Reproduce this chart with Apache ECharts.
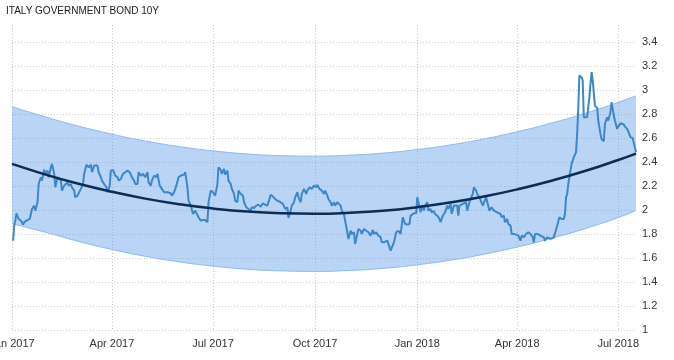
<!DOCTYPE html>
<html>
<head>
<meta charset="utf-8">
<script src="https://cdn.jsdelivr.net/npm/echarts@6/dist/echarts.min.js"></script>
<style>
html,body{margin:0;padding:0;background:#fff;}
#chart{width:674px;height:360px;}
</style>
</head>
<body>
<div id="chart"></div>
<script>
// ---- DATA ----
const titleText = 'ITALY GOVERNMENT BOND 10Y';
const startDate = [2017, 0, 1];       // day offsets below count from this date
const endOffset = 562;                // last day shown (Jul 2018)

// [day offset from 2017-01-01, 10Y yield %]
const yieldPoints = [
[1,1.744],[2,1.869],[3,1.911],[4,1.972],[6,1.925],[8,1.911],[10,1.878],[11,1.897],[13,1.911],[16,1.925],
[18,2.008],[20,2.036],[21,1.994],[23,2.064],[24,2.216],[26,2.272],[27,2.244],[29,2.336],[30,2.300],[32,2.327],
[33,2.272],[35,2.355],[36,2.383],[38,2.300],[39,2.189],[41,2.272],[42,2.258],[44,2.244],[45,2.161],[47,2.202],
[48,2.216],[50,2.230],[51,2.202],[53,2.216],[54,2.189],[56,2.161],[57,2.105],[59,2.119],[60,2.133],[62,2.175],
[64,2.216],[65,2.300],[67,2.377],[69,2.355],[71,2.377],[72,2.314],[74,2.369],[77,2.369],[78,2.314],[80,2.272],
[81,2.244],[83,2.216],[85,2.189],[86,2.147],[88,2.202],[89,2.327],[91,2.333],[93,2.286],[95,2.272],[96,2.244],
[98,2.258],[100,2.300],[102,2.314],[104,2.327],[106,2.314],[108,2.272],[110,2.244],[111,2.216],
[113,2.216],[114,2.314],[116,2.286],[118,2.300],[120,2.272],[122,2.314],[123,2.230],[125,2.202],[126,2.244],[128,2.286],
[130,2.272],[131,2.300],[133,2.202],[135,2.175],[137,2.147],[140,2.147],[143,2.139],[144,2.119],[146,2.147],[148,2.202],
[150,2.272],[152,2.286],[155,2.294],[156,2.314],[158,2.189],[159,2.077],[161,2.036],[163,1.966],[165,1.994],[166,1.980],
[168,1.939],[170,1.911],[172,1.916],[174,1.916],[176,1.897],[177,2.064],[179,2.161],[181,2.147],[183,2.119],[185,2.216],
[186,2.355],[188,2.333],[189,2.300],[191,2.341],[192,2.294],[194,2.327],[195,2.244],[197,2.216],[198,2.175],[200,2.133],
[201,2.077],[203,2.064],[204,2.161],[206,2.133],[208,2.119],[209,2.064],[211,2.022],[213,2.008],[215,1.994],[216,2.022],
[218,2.016],[220,2.036],[222,2.044],[224,2.027],[226,2.055],[228,2.044],
[230,2.036],[233,2.127],[235,2.111],[237,2.091],[239,2.077],[242,2.064],[244,2.050],[246,2.008],[248,2.022],[249,1.933],
[251,1.994],[252,2.036],[254,2.064],[255,2.105],[257,2.147],[258,2.105],[260,2.064],[261,2.133],[263,2.175],[265,2.133],
[266,2.161],[268,2.189],[270,2.175],[272,2.202],[274,2.189],[275,2.208],[277,2.175],[279,2.161],[281,2.133],[282,2.161],
[284,2.119],[285,2.091],[287,2.064],[288,2.036],[290,2.064],[291,2.036],[293,2.064],[294,2.077],[296,2.036],[297,1.994],
[299,1.966],[300,1.911],[302,1.814],[303,1.758],[305,1.827],[306,1.800],[308,1.814],[309,1.716],[311,1.800],[312,1.841],
[314,1.827],[315,1.800],[317,1.841],[319,1.827],[321,1.814],[323,1.786],[325,1.833],[326,1.800],[328,1.814],[330,1.786],
[332,1.772],[333,1.730],[335,1.730],[338,1.744],[339,1.730],[341,1.661],[342,1.661],[344,1.730],
[346,1.814],[348,1.827],[350,1.800],[352,1.939],[354,1.883],[356,1.878],[358,1.883],[359,1.952],[362,1.972],[364,1.972],
[365,2.105],[366,2.064],[368,1.980],[369,2.036],[371,1.994],[372,2.036],[374,2.064],[375,1.994],[377,2.008],[378,1.980],
[380,1.989],[381,1.966],[383,1.952],[385,1.925],[386,1.897],[388,1.952],[390,1.980],[392,2.036],[393,2.008],[395,2.050],
[396,1.966],[398,2.036],[399,2.022],[401,2.036],[402,1.952],[403,2.036],[406,2.050],[407,2.064],[409,2.064],[410,1.994],
[412,2.064],[413,2.091],[415,2.133],[416,2.189],[418,2.161],[419,2.133],[421,2.105],[422,2.091],[424,2.036],[425,2.050],
[427,2.105],[428,2.105],[430,1.994],[431,2.008],[432,2.022],[434,1.994],[435,2.008],[437,1.980],[438,1.980],[440,1.966],
[441,1.939],[443,1.952],[444,1.897],[446,1.925],[447,1.883],[449,1.869],[450,1.800],[452,1.800],[454,1.794],[456,1.786],
[458,1.744],[459,1.786],[461,1.772],[462,1.766],
[463,1.800],[465,1.814],[467,1.800],[469,1.772],[470,1.730],[471,1.800],[473,1.800],[474,1.800],[476,1.786],[477,1.791],
[479,1.772],[480,1.744],[482,1.772],[483,1.786],[485,1.758],[486,1.744],[488,1.772],[489,1.777],[491,1.869],[492,1.883],
[493,1.939],[495,1.925],[497,1.925],[498,1.966],[499,2.105],[500,2.133],[501,2.216],[503,2.327],[504,2.383],[505,2.397],
[506,2.439],[508,2.480],[509,2.633],[510,2.841],[511,3.119],[513,3.105],[514,3.078],[515,2.772],[516,2.758],[518,2.772],
[519,2.786],[520,2.939],[521,3.050],[522,3.147],[523,3.078],[525,2.869],[526,2.855],[527,2.850],[528,2.744],[530,2.633],
[531,2.591],[533,2.572],[534,2.716],[536,2.772],[537,2.744],[539,2.814],[540,2.897],[542,2.786],[543,2.744],[545,2.675],
[546,2.694],[548,2.722],[549,2.730],[551,2.711],[552,2.694],[554,2.675],[555,2.655],[557,2.605],[559,2.600],[560,2.591],
[562,2.480]
];

// regression trend and channel, read at month starts (day offsets)
const trendDays  = [0, 31, 59, 90, 120, 151, 181, 212, 243, 273, 304, 334, 365, 396, 424, 455, 485, 516, 546, 562];
const trendVals  = [2.383, 2.292, 2.220, 2.151, 2.094, 2.047, 2.012, 1.986, 1.972, 1.968, 1.976, 1.993, 2.023, 2.063, 2.109, 2.171, 2.241, 2.324, 2.416, 2.469];
const upperVals  = [2.860, 2.772, 2.700, 2.631, 2.574, 2.527, 2.492, 2.466, 2.452, 2.448, 2.456, 2.473, 2.503, 2.543, 2.589, 2.651, 2.721, 2.804, 2.896, 2.950];
const lowerVals  = [1.885, 1.812, 1.740, 1.671, 1.614, 1.567, 1.532, 1.506, 1.492, 1.488, 1.496, 1.513, 1.543, 1.583, 1.629, 1.691, 1.761, 1.844, 1.936, 1.995];

// axis ticks
const xTickDates = [[2017,0,1],[2017,3,1],[2017,6,1],[2017,9,1],[2018,0,1],[2018,3,1],[2018,6,1]];
const yTicks = [1, 1.2, 1.4, 1.6, 1.8, 2, 2.2, 2.4, 2.6, 2.8, 3, 3.2, 3.4];
const monthNames = ['Jan','Feb','Mar','Apr','May','Jun','Jul','Aug','Sep','Oct','Nov','Dec'];

// ---- BUILD ----
const DAY = 86400000;
const t0 = Date.UTC(startDate[0], startDate[1], startDate[2]);
const t1 = t0 + endOffset * DAY;
const toTs = d => t0 + d * DAY;
const lineData = yieldPoints.map(p => [toTs(p[0]), p[1]]);
const trendData = trendDays.map((d, i) => [toTs(d), trendVals[i]]);
const lowerData = trendDays.map((d, i) => [toTs(d), lowerVals[i]]);
const bandData = trendDays.map((d, i) => [toTs(d), +(upperVals[i] - lowerVals[i]).toFixed(3)]);
const xTicks = xTickDates.map(a => Date.UTC(a[0], a[1], a[2]));

const FONT = 'Liberation Sans, Arial, sans-serif';
const chart = echarts.init(document.getElementById('chart'), null, {renderer: 'canvas'});
chart.setOption({
  animation: false,
  backgroundColor: '#ffffff',
  title: {
    text: titleText, left: 1, top: 1,
    textStyle: {fontFamily: FONT, fontSize: 10, fontWeight: 'normal', color: '#222'}
  },
  grid: {left: 12, right: 38, top: 25, bottom: 30, containLabel: false, outerBoundsMode: 'none'},
  xAxis: [
    {
      type: 'value',
      min: t0, max: t1,
      axisLine: {show: false},
      axisTick: {show: false, customValues: xTicks},
      axisLabel: {
        customValues: xTicks, margin: 8,
        fontFamily: FONT, fontSize: 11, color: '#333',
        formatter: v => { const d = new Date(v); return monthNames[d.getUTCMonth()] + ' ' + d.getUTCFullYear(); }
      },
      splitLine: {show: true, lineStyle: {color: '#c8c8c8', type: [1, 2], width: 1}}
    },
    {
      // hidden twin time axis (same range) so the channel can be stacked on y
      type: 'time', show: false, min: t0, max: t1,
      axisLabel: {show: false}, axisTick: {show: false}, splitLine: {show: false}, axisLine: {show: false}
    }
  ],
  yAxis: {
    type: 'value', position: 'right',
    min: 1, max: 3.54,
    axisLine: {show: false},
    axisTick: {show: false, customValues: yTicks},
    axisLabel: {customValues: yTicks, margin: 6, fontFamily: FONT, fontSize: 11, color: '#333'},
    splitLine: {show: true, lineStyle: {color: '#c8c8c8', type: [1, 2], width: 1}}
  },
  series: [
    {
      type: 'line', xAxisIndex: 1, data: lowerData,
      stack: 'band', smooth: true, symbol: 'none', silent: true,
      lineStyle: {color: '#8fb9ec', width: 1}
    },
    {
      type: 'line', xAxisIndex: 1, data: bandData,
      stack: 'band', smooth: true, symbol: 'none', silent: true,
      lineStyle: {color: '#8fb9ec', width: 1},
      areaStyle: {color: 'rgb(111,166,236)', opacity: 0.48}
    },
    {
      type: 'line', data: lineData, symbol: 'none',
      lineStyle: {color: '#3d86c8', width: 2}
    },
    {
      type: 'line', data: trendData, smooth: true, symbol: 'none',
      lineStyle: {color: '#0e2b52', width: 2.5}
    }
  ]
});
</script>
</body>
</html>
